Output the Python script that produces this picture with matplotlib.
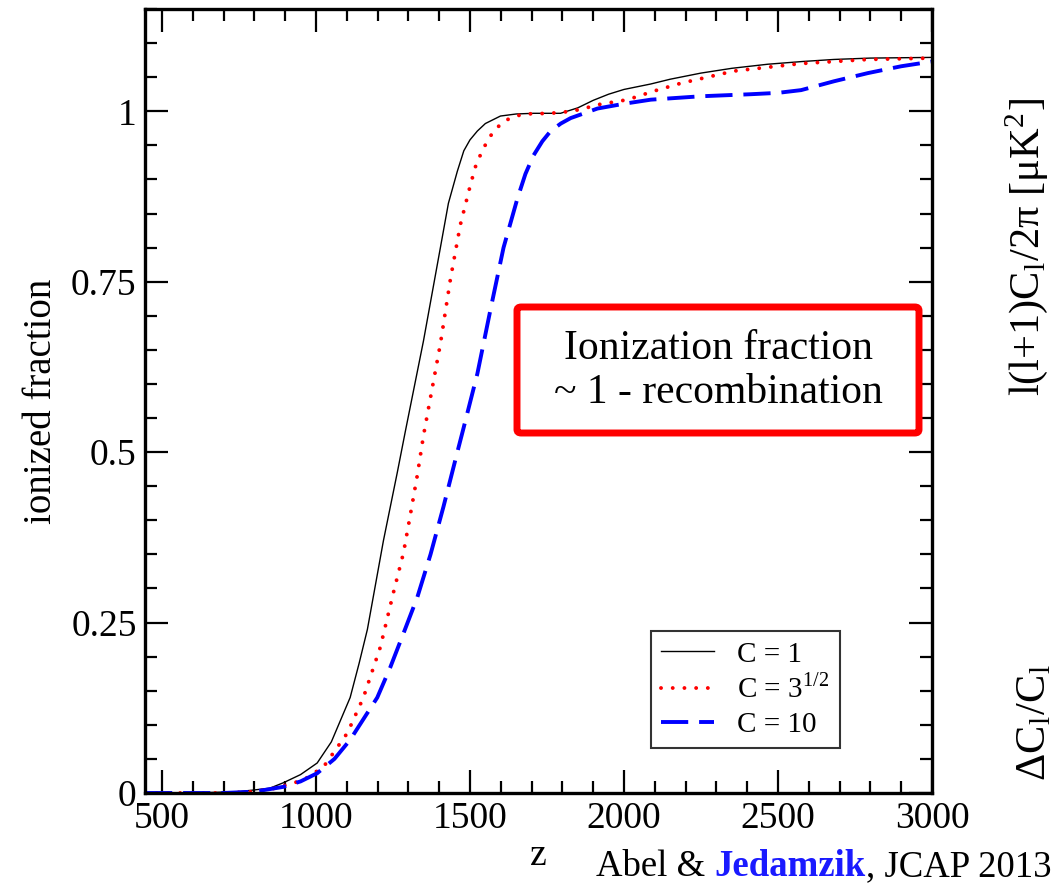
import matplotlib
matplotlib.use("Agg")
import matplotlib.pyplot as plt
from matplotlib.patches import FancyBboxPatch
from matplotlib.ticker import MultipleLocator, FixedLocator, FixedFormatter

plt.rcParams['font.family'] = ['Liberation Serif', 'DejaVu Serif']
plt.rcParams['mathtext.fontset'] = 'stix'

# ---------------- data ----------------
z_c1 = [445, 600, 750, 850, 894, 950, 1004, 1050, 1111, 1140, 1167, 1219, 1264, 1290,
        1349, 1404, 1430, 1459, 1480, 1500, 1524, 1550, 1599, 1650, 1706, 1794, 1850,
        1900, 1950, 2000, 2087, 2150, 2250, 2350, 2467, 2580, 2682, 2800, 3000]
f_c1 = [0.0, 0.0, 0.002, 0.007, 0.015, 0.027, 0.044, 0.075, 0.14, 0.19, 0.24, 0.37, 0.47, 0.53,
        0.663, 0.80, 0.865, 0.912, 0.942, 0.958, 0.971, 0.982, 0.993, 0.996, 0.997, 0.997, 1.005,
        1.016, 1.025, 1.032, 1.040, 1.047, 1.056, 1.063, 1.069, 1.073, 1.076, 1.078, 1.079]

z_c3 = [445, 700, 800, 868, 959, 1024, 1102, 1154, 1209, 1251, 1284, 1306, 1329,
        1349, 1404, 1437, 1469, 1502, 1520, 1544, 1570, 1599, 1630, 1674, 1762, 1830, 1869, 1920,
        2012, 2100, 2184, 2357, 2575, 2792, 3000]
f_c3 = [0.0, 0.0, 0.002, 0.007, 0.019, 0.038, 0.088, 0.14, 0.214, 0.293, 0.352, 0.407, 0.466,
        0.524, 0.659, 0.755, 0.834, 0.893, 0.922, 0.946, 0.966, 0.981, 0.99, 0.996, 0.997, 1.0, 1.004, 1.01,
        1.017, 1.03, 1.041, 1.059, 1.070, 1.076, 1.078]

z_c10 = [445, 700, 800, 894, 950, 1004, 1060, 1111, 1199, 1241, 1284, 1329, 1372,
         1414, 1459, 1479, 1524, 1567, 1609, 1654, 1680, 1706, 1735, 1762, 1795, 1827, 1914, 2000,
         2087, 2250, 2412, 2500, 2575, 2682, 2792, 2900, 3000]
f_c10 = [0.0, 0.0, 0.002, 0.009, 0.017, 0.029, 0.05, 0.078, 0.14, 0.184, 0.234, 0.287, 0.35,
         0.42, 0.50, 0.535, 0.615, 0.71, 0.80, 0.872, 0.908, 0.935, 0.956, 0.971, 0.982, 0.99, 1.004, 1.011,
         1.017, 1.022, 1.025, 1.027, 1.031, 1.044, 1.056, 1.066, 1.073]

labels = ["C = 1", r"C = 3$^{\mathregular{1/2}}$", "C = 10"]
x_ticks = [500, 1000, 1500, 2000, 2500, 3000]
y_ticks = [0, 0.25, 0.5, 0.75, 1]
y_tick_labels = ["0", "0.25", "0.5", "0.75", "1"]

# ---------------- figure ----------------
W, H = 1055, 891
fig = plt.figure(figsize=(W / 100, H / 100), dpi=100)
ax = fig.add_axes([145 / W, (H - 793) / H, (932 - 145) / W, (793 - 9) / H])

ax.plot(z_c1, f_c1, color='black', lw=1.0, label=labels[0])
ax.plot(z_c3, f_c3, color='red', lw=2.8, linestyle=(0, (0.01, 3.0)),
        dash_capstyle='round', label=labels[1])
ax.plot(z_c10, f_c10, color='blue', lw=2.8, linestyle=(0, (7, 2.8)), label=labels[2])

ax.set_xlim(445, 3000)
ax.set_ylim(0, 1.15)

ax.xaxis.set_major_locator(FixedLocator(x_ticks))
ax.xaxis.set_minor_locator(MultipleLocator(100))
ax.yaxis.set_major_locator(FixedLocator(y_ticks))
ax.yaxis.set_major_formatter(FixedFormatter(y_tick_labels))
ax.yaxis.set_minor_locator(MultipleLocator(0.05))

ax.tick_params(which='both', direction='in', top=True, right=True, width=1.6,
               labelsize=27, pad=6)
ax.tick_params(which='major', length=16.5)
ax.tick_params(which='minor', length=8.5)
for s in ax.spines.values():
    s.set_linewidth(2.4)

ax.set_xlabel("z", fontsize=27, labelpad=2)
ax.set_ylabel("ionized fraction", fontsize=28, labelpad=8)

leg = ax.legend(loc='lower left', bbox_to_anchor=((651 - 145) / 787, (793 - 748) / 784),
                borderaxespad=0, fontsize=21, frameon=True, fancybox=False,
                edgecolor='black', handlelength=1.8, handletextpad=0.8,
                borderpad=0.35, labelspacing=0.25)
leg.get_frame().set_linewidth(1.5)

# red annotation box
box = FancyBboxPatch((517 / W, (H - 433) / H), (919 - 517) / W, (433 - 307) / H,
                     boxstyle="round,pad=0,rounding_size=0.004", transform=fig.transFigure,
                     facecolor='white', edgecolor='red', lw=5, zorder=5)
fig.patches.append(box)
fig.text(718 / W, 1 - 371 / H, "Ionization fraction\n~ 1 - recombination",
         ha='center', va='center', fontsize=30, linespacing=1.2, zorder=6)

# credit line
t1 = fig.text(596 / W, 15 / H, "Abel & ", fontsize=26.5, va='baseline', ha='left')
t2 = ax.annotate("Jedamzik", xy=(1, 0), xycoords=t1, fontsize=26.5, fontweight='bold',
                 color='#1a1aff', va='bottom', ha='left', annotation_clip=False)
t3 = ax.annotate(", JCAP 2013", xy=(1, 0), xycoords=t2, fontsize=26.5,
                 va='bottom', ha='left', annotation_clip=False)

# labels of the neighbouring panel (kept fully inside the figure)
fig.text(1003 / W, 1 - 97 / H, r"l(l+1)C$_\mathregular{l}$/2π [μK$^\mathregular{2}$]",
         rotation=90, ha='left', va='top', fontsize=30.5)
fig.text(1016 / W, 1 - 781 / H, r"ΔC$_\mathregular{l}$/C$_\mathregular{l}$",
         rotation=90, ha='left', va='bottom', fontsize=30.5)

fig.savefig("out.png", dpi=100)
